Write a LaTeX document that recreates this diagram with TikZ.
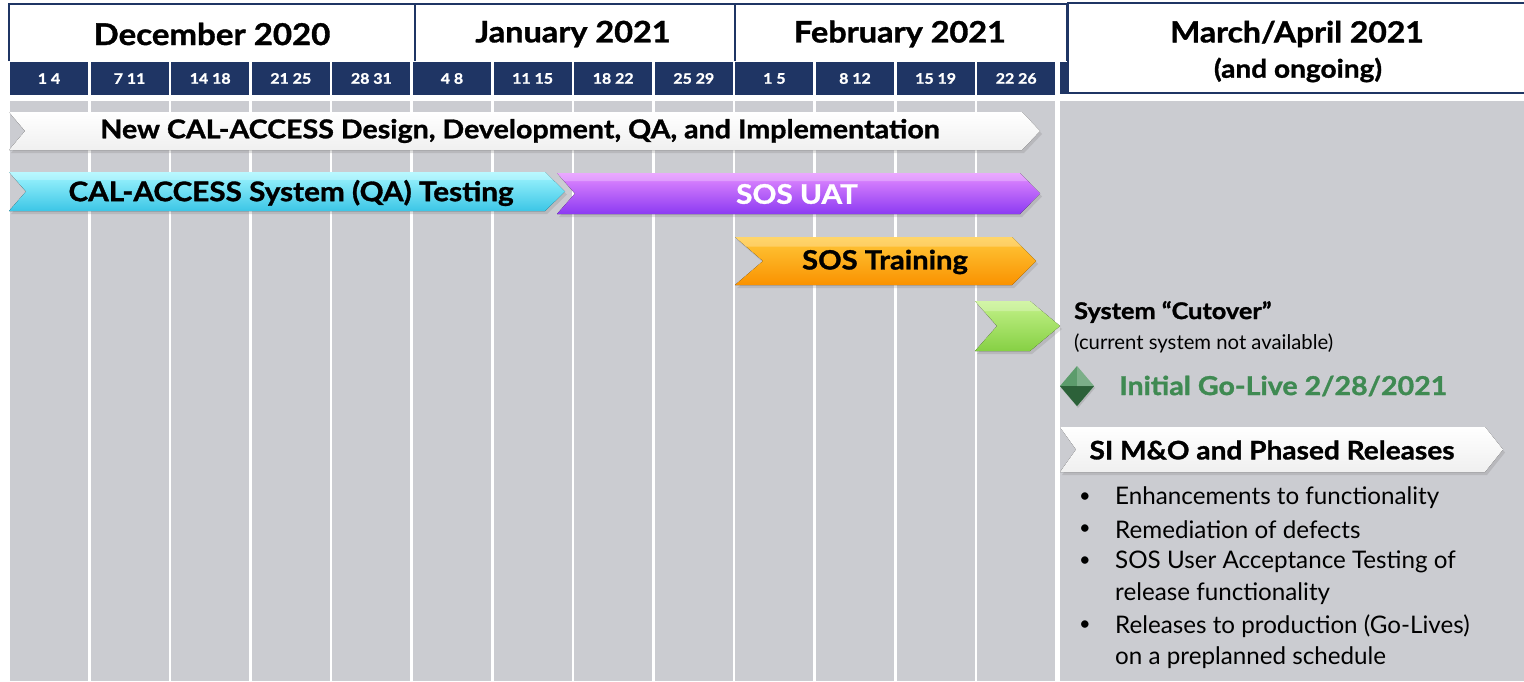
\documentclass[tikz,border=0pt]{standalone}
\usepackage{fontspec}
\setmainfont{Lato}[BoldFont={Lato Bold},BoldFeatures={FakeStretch=1.1,FakeBold=1.2}]
\usetikzlibrary{shadows}
\definecolor{navy}{HTML}{1F3564}
\definecolor{bodygray}{HTML}{CBCCD1}
\definecolor{golive}{HTML}{3F8A52}
\definecolor{cyanT}{HTML}{A2F6FF}
\definecolor{cyanB}{HTML}{3CC6E6}
\definecolor{purT}{HTML}{E48CFF}
\definecolor{purB}{HTML}{8C3AF2}
\definecolor{orT}{HTML}{FFC83A}
\definecolor{orB}{HTML}{FA9200}
\definecolor{grT}{HTML}{C4F28A}
\definecolor{grB}{HTML}{86D044}
\newcommand\gbar[8]{%
  \fill[drop shadow={shadow xshift=2pt,shadow yshift=-3pt,opacity=0.25},top color=#7,bottom color=#8]
   (#1,#3) -- ({#2-#6},#3) -- (#2,{(#3+#4)/2}) -- ({#2-#6},#4) -- (#1,#4) -- ({#1+#5},{(#3+#4)/2}) -- cycle;
  \fill[white,opacity=0.25] (#1,#3) -- ({#2-#6},#3) -- ({#2-#6*0.6},{#3+(#4-#3)*0.2}) -- ({#1+#5*0.4},{#3+(#4-#3)*0.2}) -- cycle;
}
\tikzset{
  hdr/.style={font=\bfseries\fontsize{29.5}{34}\selectfont,text=black},
  wk/.style={font=\bfseries\fontsize{14.5}{17}\selectfont,text=white},
  barlbl/.style={font=\bfseries\fontsize{26.5}{31}\selectfont},
  bul/.style={font=\fontsize{24.2}{28}\selectfont,anchor=west,inner sep=0pt},
  monthbox/.style={draw=navy,line width=1.6pt,fill=white}
}
\begin{document}
\begin{tikzpicture}[x=1pt,y=-1pt]
\useasboundingbox (0,0) rectangle (1524,681);
\fill[white] (0,0) rectangle (1524,681);
% gray body columns and week cells
\foreach \i/\lab in {0/1 4,1/7 11,2/14 18,3/21 25,4/28 31,5/4 8,6/11 15,7/18 22,8/25 29,9/1 5,10/8 12,11/15 19,12/22 26}{
  \fill[bodygray] ({10+80.6*\i},101) rectangle ({88+80.6*\i},681);
  \fill[navy] ({10+80.6*\i},62) rectangle ({88+80.6*\i},95);
  \node[wk] (w\i) at ({49+80.6*\i},78.5) {\lab};
}
\fill[bodygray] (1060,101) rectangle (1524,681);
\fill[navy] (1060,62) rectangle (1068,94);
% month boxes
\draw[monthbox] (9,61) -- (9,4) -- (415,4) -- (415,61);
\draw[monthbox] (415,4) -- (735,4) -- (735,61);
\draw[monthbox] (735,4) -- (1067,4) -- (1067,61);
\draw[monthbox] (1068,3) rectangle (1526,93);
\node[hdr,font=\bfseries\fontsize{30}{34}\selectfont] (dec) at (212,34) {December 2020};
\node[hdr] (jan) at (573,34) {January 2021};
\node[hdr] (feb) at (900,34) {February 2021};
\node[hdr,font=\bfseries\fontsize{29}{34}\selectfont] (mar) at (1297,34) {March/April 2021};
\node[font=\bfseries\fontsize{25.5}{30}\selectfont] (ong) at (1298,70) {(and ongoing)};
% bars
\gbar{9}{1040}{112}{150}{16}{18}{white}{white!88!gray}
\gbar{9}{565}{172}{211}{17}{20}{cyanT}{cyanB}
\gbar{557}{1040}{173}{214}{18}{20}{purT}{purB}
\gbar{735}{1036}{237}{285}{28}{24}{orT}{orB}
\gbar{975}{1060}{301}{351}{22}{30}{grT}{grB}
\gbar{1060}{1503}{427}{472}{16}{18}{white}{white!88!gray}
% diamond
\fill[drop shadow={shadow xshift=1pt,shadow yshift=-2pt,opacity=0.3},golive!85!white] (1077,366) -- (1094,386) -- (1077,406) -- (1060,386) -- cycle;
\fill[golive!70!black] (1060,386) -- (1094,386) -- (1077,406) -- cycle;
\fill[white,opacity=0.2] (1077,366) -- (1094,386) -- (1077,386) -- cycle;
% labels
\node[barlbl,font=\bfseries\fontsize{26}{31}\selectfont] (l1) at (520,131) {New CAL-ACCESS Design, Development, QA, and Implementation};
\node[barlbl,font=\bfseries\fontsize{27}{31}\selectfont] (l2) at (291,193) {CAL-ACCESS System (QA) Testing};
\node[barlbl,font=\bfseries\fontsize{27}{31}\selectfont,text=white] (l3) at (797,194) {SOS UAT};
\node[barlbl] (l4) at (885,262) {SOS Training};
\node[font=\bfseries\fontsize{23}{27}\selectfont,anchor=west,inner sep=0pt] (cut) at (1074,312) {System “Cutover”};
\node[font=\fontsize{20.3}{24}\selectfont,anchor=west,inner sep=0pt] (cutsub) at (1074,343) {(current system not available)};
\node[font=\bfseries\fontsize{26}{30}\selectfont,anchor=west,inner sep=0pt,text=golive] (gl) at (1119,386) {Initial Go-Live 2/28/2021};
\node[barlbl,font=\bfseries\fontsize{25.5}{30}\selectfont] (l5) at (1272,450) {SI M\&O and Phased Releases};
\foreach \y/\t/\b in {498/Enhancements to functionality/1,530/Remediation of defects/1,562/SOS User Acceptance Testing of/1,594/release functionality/0,626/Releases to production (Go-Lives)/1,658/on a preplanned schedule/0}{
  \node[bul] (b\y) at (1115,\y) {\t};
  \ifnum\b=1 \node[bul,font=\fontsize{20}{24}\selectfont] (d\y) at (1079,\y) {•};\fi
}
\end{tikzpicture}
\end{document}
